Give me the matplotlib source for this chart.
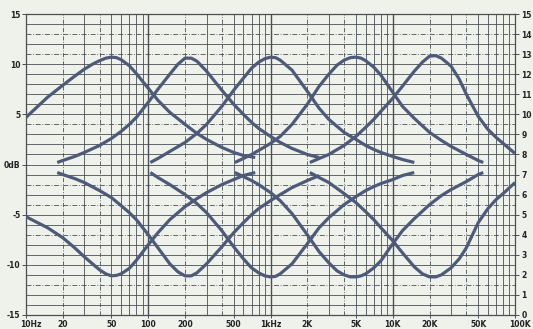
import numpy as np
import matplotlib.pyplot as plt
import matplotlib.transforms as mtrans

# --- values --------------------------------------------------------------
# five bands, each drawn once as boost and once as cut (dB vs Hz)
band1_f = [10, 12, 15, 20, 25, 30, 35, 40, 45, 50, 55, 60, 70, 80, 100, 120,
           150, 200, 250, 300, 400, 500, 600, 750]
band1_boost = [4.7, 5.6, 6.7, 7.9, 8.8, 9.5, 10.0, 10.35, 10.6, 10.7, 10.65,
               10.45, 9.85, 9.05, 7.6, 6.4, 5.2, 4.0, 3.1, 2.5, 1.7, 1.2, 0.9,
               0.7]
band1_cut = [-5.2, -5.7, -6.3, -7.3, -8.3, -9.2, -9.9, -10.5, -10.9, -11.1,
             -11.05, -10.9, -10.35, -9.55, -8.0, -6.8, -5.5, -4.2, -3.4, -2.8,
             -2.0, -1.5, -1.1, -0.8]

band2_f = [18, 20, 25, 30, 40, 50, 60, 70, 80, 100, 120, 150, 175, 200, 225,
           250, 300, 400, 500, 600, 700, 800, 1000, 1200, 1500, 2000, 2500]
band2_boost = [0.2, 0.4, 0.8, 1.2, 1.9, 2.6, 3.3, 4.0, 4.7, 6.2, 7.5, 9.0,
               10.0, 10.6, 10.6, 10.3, 9.3, 7.4, 6.0, 5.0, 4.2, 3.6, 2.8, 2.2,
               1.6, 1.0, 0.7]
band2_cut = [-0.8, -1.0, -1.4, -1.8, -2.6, -3.3, -4.1, -4.8, -5.5, -7.0, -8.3,
             -9.9, -10.7, -11.1, -11.1, -10.8, -9.9, -8.2, -6.8, -5.8, -5.0,
             -4.4, -3.6, -3.0, -2.3, -1.6, -1.1]

band3_f = [104, 120, 150, 200, 250, 300, 400, 500, 600, 700, 800, 900, 1000,
           1100, 1200, 1500, 2000, 2500, 3000, 4000, 5000, 6000, 7000, 8000,
           10000, 12000, 15000]
band3_boost = [0.2, 0.6, 1.3, 2.2, 3.1, 4.0, 5.8, 7.4, 8.6, 9.6, 10.2, 10.55,
               10.7, 10.65, 10.4, 9.4, 7.3, 5.6, 4.5, 3.2, 2.5, 1.9, 1.5, 1.2,
               0.8, 0.5, 0.2]
band3_cut = [-0.8, -1.3, -2.0, -3.0, -3.9, -4.8, -6.6, -8.2, -9.4, -10.3,
             -10.8, -11.1, -11.2, -11.15, -10.9, -9.9, -7.9, -6.3, -5.3, -4.0,
             -3.2, -2.6, -2.2, -1.9, -1.5, -1.1, -0.8]

band4_f = [510, 600, 700, 800, 1000, 1200, 1500, 2000, 2500, 3000, 3500, 4000,
           4500, 5000, 5500, 6000, 7000, 8000, 10000, 12000, 15000, 20000,
           25000, 30000, 40000, 50000, 55000]
band4_boost = [0.2, 0.6, 1.0, 1.4, 2.1, 2.8, 4.0, 6.0, 7.8, 9.0, 9.9, 10.4,
               10.65, 10.7, 10.6, 10.35, 9.7, 8.9, 7.2, 5.8, 4.6, 3.2, 2.4,
               1.8, 1.0, 0.4, 0.2]
band4_cut = [-0.8, -1.2, -1.6, -2.0, -2.8, -3.6, -4.9, -7.0, -8.7, -9.8,
             -10.6, -11.0, -11.2, -11.2, -11.1, -10.9, -10.3, -9.6, -7.9, -6.6,
             -5.4, -4.0, -3.1, -2.5, -1.7, -1.0, -0.8]

band5_f = [2100, 2500, 3000, 4000, 5000, 6000, 7000, 8000, 10000, 12000, 15000,
           17500, 20000, 22500, 25000, 30000, 35000, 40000, 50000, 60000,
           70000, 80000, 100000]
band5_boost = [0.2, 0.6, 1.0, 1.9, 2.8, 3.7, 4.5, 5.3, 6.6, 7.8, 9.3, 10.2,
               10.8, 10.85, 10.6, 9.8, 8.5, 7.0, 4.8, 3.5, 2.7, 2.1, 1.1]
band5_cut = [-0.8, -1.3, -1.8, -2.9, -3.8, -4.7, -5.5, -6.3, -7.6, -8.8,
             -10.2, -10.9, -11.2, -11.2, -11.0, -10.3, -9.4, -8.3, -5.8, -4.4,
             -3.5, -2.9, -1.8]

# axis labelling
x_ticks = [10, 20, 50, 100, 200, 500, 1000, 2000, 5000, 10000, 20000, 50000,
           100000]
x_labels = ["10Hz", "20", "50", "100", "200", "500", "1kHz", "2K", "5K", "10K",
            "20K", "50K", "100K"]
y_ticks = [15, 10, 5, 0, -5, -10, -15]
y_labels = ["15", "10", "5", "0dB", "-5", "-10", "-15"]
right_ticks = list(range(0, 16))

# dash-dot (overprinted) horizontal rules, the rest are solid
dashed_rows = [13, 11, 4, -2, -4, -7, -12]

BG = "#eff2ea"
GRID = "#4a4f55"
CURVE = "#4e5a7a"

fig = plt.figure(figsize=(5.33, 3.29), dpi=100, facecolor=BG)
ax = fig.add_axes([26 / 533, 1 - 315 / 329, 489 / 533, 301 / 329])
ax.set_facecolor(BG)
ax.set_xscale("log")
ax.set_xlim(10, 100000)
ax.set_ylim(-15, 15)

# grid: 1 dB rows, 1-2-...-9 log columns
for db in range(-14, 15):
    ls = (0, (6, 2, 1, 2)) if db in dashed_rows else "-"
    ax.axhline(db, color=GRID, lw=0.6, ls=ls, zorder=1)
for dec in (10, 100, 1000, 10000):
    for m in range(1, 10):
        f = dec * m
        if f <= 10:
            continue
        lw = 1.0 if m == 1 else 0.6
        ls = (0, (5, 2, 1, 2)) if m in (2, 4) else "-"
        ax.axvline(f, color=GRID, lw=lw, ls=ls, zorder=1)

for f, boost, cut in [(band1_f, band1_boost, band1_cut),
                      (band2_f, band2_boost, band2_cut),
                      (band3_f, band3_boost, band3_cut),
                      (band4_f, band4_boost, band4_cut),
                      (band5_f, band5_boost, band5_cut)]:
    for vals in (boost, cut):
        ax.plot(f, vals, color=CURVE, lw=2.3, solid_joinstyle="round",
                solid_capstyle="butt", zorder=3)

for s in ax.spines.values():
    s.set_color(GRID)
    s.set_linewidth(0.9)

txt = dict(fontsize=5.5, color="#222222", fontweight="bold")
ax.set_xticks(x_ticks)
ax.set_xticklabels(x_labels, **txt)
ax.xaxis.set_minor_locator(plt.NullLocator())
ax.tick_params(axis="x", length=2, width=0.7, color=GRID, pad=1.5)
ax.set_yticks(y_ticks)
ax.set_yticklabels(y_labels, **txt)
ax.tick_params(axis="y", length=3, width=0.7, color=GRID, pad=1)

# first and last frequency labels sit a little to the right in the original
xl = ax.get_xticklabels()
xl[0].set_transform(xl[0].get_transform() +
                    mtrans.ScaledTranslation(5 / 100, 0, fig.dpi_scale_trans))
xl[-1].set_transform(xl[-1].get_transform() +
                     mtrans.ScaledTranslation(5 / 100, 0, fig.dpi_scale_trans))

rax = ax.twinx()
rax.set_ylim(0, 15)
rax.set_yticks(right_ticks)
rax.set_yticklabels([str(v) for v in right_ticks], **txt)
rax.tick_params(axis="y", length=3, width=0.7, color=GRID, pad=1.5)
for s in rax.spines.values():
    s.set_visible(False)

fig.savefig("out.png", dpi=100, facecolor=BG)
